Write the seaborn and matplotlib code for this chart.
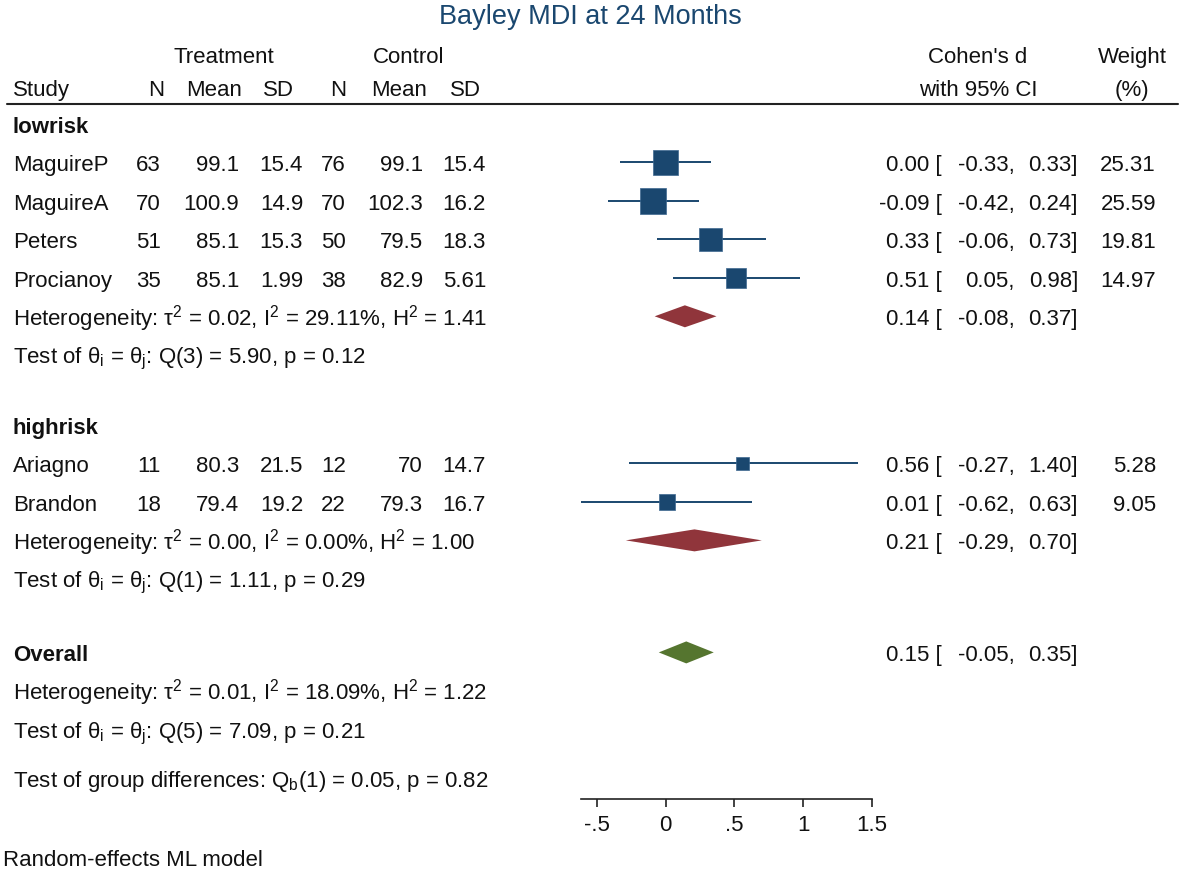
import numpy as np
import pandas as pd
import matplotlib
matplotlib.use("Agg")
import matplotlib.pyplot as plt
import matplotlib.transforms as mtransforms
from matplotlib.lines import Line2D
import seaborn as sns

# study level data
study = ["MaguireP", "MaguireA", "Peters", "Procianoy", "Ariagno", "Brandon"]
n_treat = [63, 70, 51, 35, 11, 18]
mean_treat = [99.1, 100.9, 85.1, 85.1, 80.3, 79.4]
sd_treat = [15.4, 14.9, 15.3, 1.99, 21.5, 19.2]
n_ctrl = [76, 70, 50, 38, 12, 22]
mean_ctrl = [99.1, 102.3, 79.5, 82.9, 70, 79.3]
sd_ctrl = [15.4, 16.2, 18.3, 5.61, 14.7, 16.7]
cohen_d = [0.00, -0.09, 0.33, 0.51, 0.56, 0.01]
ci_lo = [-0.33, -0.42, -0.06, 0.05, -0.27, -0.62]
ci_hi = [0.33, 0.24, 0.73, 0.98, 1.40, 0.63]
weight = [25.31, 25.59, 19.81, 14.97, 5.28, 9.05]

# pooled estimates: lowrisk, highrisk, overall
pool_name = ["lowrisk", "highrisk", "Overall"]
pool_d = [0.14, 0.21, 0.15]
pool_lo = [-0.08, -0.29, -0.05]
pool_hi = [0.37, 0.70, 0.35]
tau2 = [0.02, 0.00, 0.01]
i2 = [29.11, 0.00, 18.09]
h2 = [1.41, 1.00, 1.22]
q_df = [3, 1, 5]
q_stat = [5.90, 1.11, 7.09]
q_p = [0.12, 0.29, 0.21]
qb_df, qb_stat, qb_p = 1, 0.05, 0.82

xticks = [-0.5, 0, 0.5, 1, 1.5]
xtick_labels = ["-.5", "0", ".5", "1", "1.5"]

# row layout (one unit = one table line)
study_y = [1, 2, 3, 4, 8.82, 9.82]
label_y = [0, 7.82, 13.73]
pool_y = [5, 10.82, 13.73]
het_y = [5, 10.82, 14.73]
test_y = [6, 11.82, 15.73]
qb_y = 16.99

navy = "#1a476f"
pool_colors = ["#90353b", "#90353b", "#55752f"]

sns.set_theme(style="ticks")
plt.rcParams["font.family"] = ["Liberation Sans", "DejaVu Sans"]
plt.rcParams["mathtext.fontset"] = "custom"
plt.rcParams["mathtext.rm"] = "Liberation Sans"
plt.rcParams["mathtext.it"] = "Liberation Sans:italic"
plt.rcParams["mathtext.bf"] = "Liberation Sans:bold"

W, H = 1181, 871
fig = plt.figure(figsize=(W / 100, H / 100), dpi=100)
ax_left, ax_right, ax_bottom = 580.5, 871.7, 799
ax = fig.add_axes([ax_left / W, 1 - ax_bottom / H, (ax_right - ax_left) / W, ax_bottom / H])
row_px, y0_px = 38.5, 123.8
ax.set_xlim(-0.62, 1.5)
ax.set_ylim((ax_bottom - y0_px) / row_px, -y0_px / row_px)

# confidence intervals and weighted squares
ax.hlines(study_y, ci_lo, ci_hi, color=navy, lw=1.4, zorder=2)
df = pd.DataFrame({"d": cohen_d, "y": study_y, "w": weight})
side_pt = (4.4 * np.sqrt(df["w"]) + 3.4) * 0.72
sns.scatterplot(data=df, x="d", y="y", marker="s", s=side_pt ** 2, color=navy,
                edgecolor="#3d6890", linewidth=0.5, legend=False, ax=ax, zorder=3)

# pooled diamonds
half_h = 11 / row_px
for est, lo, hi, yy, c in zip(pool_d, pool_lo, pool_hi, pool_y, pool_colors):
    ax.fill([lo, est, hi, est], [yy, yy - half_h, yy, yy + half_h], color=c, lw=0, zorder=3)

sns.despine(ax=ax, left=True)
ax.set_yticks([])
ax.set_xlabel("")
ax.set_ylabel("")
ax.set_xticks(xticks, xtick_labels)
ax.tick_params(axis="x", length=6, width=1.2, labelsize=16, pad=5.5, color="#222222",
               labelcolor="#111111")
ax.spines["bottom"].set_linewidth(1.2)
ax.spines["bottom"].set_color("#222222")

tr = mtransforms.blended_transform_factory(fig.transFigure, ax.transData)
base_off = 8.7 / row_px


def put(xpx, row, s, ha="left", **kw):
    ax.text(xpx / W, row + base_off, s, transform=tr, ha=ha, va="baseline",
            fontsize=16, color="#111111", clip_on=False, **kw)


# header
put(224, -1.81, "Treatment", ha="center")
put(409, -1.81, "Control", ha="center")
put(978, -1.81, "Cohen's d", ha="center")
put(1132, -1.81, "Weight", ha="center")
put(13, -0.95, "Study")
for xc, s in zip([156, 214, 278.5, 338.5, 399, 465], ["N", "Mean", "SD", "N", "Mean", "SD"]):
    put(xc, -0.95, s, ha="center")
put(978, -0.95, "with 95% CI", ha="center")
put(1132, -0.95, "(%)", ha="center")
fig.add_artist(Line2D([7 / W, 1178 / W], [1 - 104 / H] * 2, color="#222222", lw=1.5))

# study rows
for i, yy in enumerate(study_y):
    put(13, yy, study[i])
    put(161, yy, f"{n_treat[i]}", ha="right")
    put(239, yy, f"{mean_treat[i]:g}", ha="right")
    put(303, yy, f"{sd_treat[i]:g}", ha="right")
    put(346, yy, f"{n_ctrl[i]}", ha="right")
    put(423, yy, f"{mean_ctrl[i]:g}", ha="right")
    put(486, yy, f"{sd_ctrl[i]:g}", ha="right")
    put(942, yy, f"{cohen_d[i]:.2f} [", ha="right")
    put(1015, yy, f"{ci_lo[i]:.2f},", ha="right")
    put(1078, yy, f"{ci_hi[i]:.2f}]", ha="right")
    put(1156, yy, f"{weight[i]:.2f}", ha="right")

# pooled rows and heterogeneity stats
for k in range(3):
    put(13, label_y[k], pool_name[k], fontweight="bold")
    put(942, pool_y[k], f"{pool_d[k]:.2f} [", ha="right")
    put(1015, pool_y[k], f"{pool_lo[k]:.2f},", ha="right")
    put(1078, pool_y[k], f"{pool_hi[k]:.2f}]", ha="right")
    het = (f"Heterogeneity: τ" + r"$^{2}$" + f" = {tau2[k]:.2f}, I" + r"$^{2}$"
           + f" = {i2[k]:.2f}%, H" + r"$^{2}$" + f" = {h2[k]:.2f}")
    put(13, het_y[k], het)
    test = ("Test of θ" + r"$_\mathrm{i}$" + " = θ" + r"$_\mathrm{j}$"
            + f": Q({q_df[k]}) = {q_stat[k]:.2f}, p = {q_p[k]:.2f}")
    put(13, test_y[k], test)

put(13, qb_y, "Test of group differences: Q" + r"$_\mathrm{b}$"
    + f"({qb_df}) = {qb_stat:.2f}, p = {qb_p:.2f}")

fig.text(590.5 / W, 1 - 24 / H, "Bayley MDI at 24 Months", ha="center", va="baseline",
         fontsize=19.5, color=navy)
fig.text(3 / W, 1 - 866 / H, "Random-effects ML model", ha="left", va="baseline",
         fontsize=16, color="#111111")

fig.savefig("out.png", dpi=100, facecolor="white")
